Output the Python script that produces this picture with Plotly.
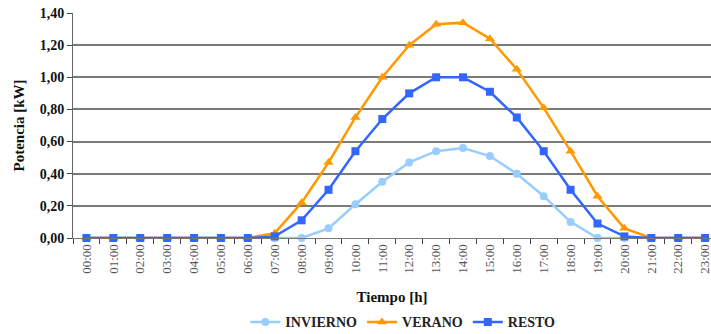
import plotly.graph_objects as go

hours = ["%02d:00" % h for h in range(24)]
invierno = [0, 0, 0, 0, 0, 0, 0, 0, 0.00, 0.06, 0.21, 0.35, 0.47, 0.54, 0.56, 0.51, 0.40, 0.26, 0.10, 0.00, 0, 0, 0, 0]
verano = [0, 0, 0, 0, 0, 0, 0, 0.03, 0.22, 0.47, 0.75, 1.00, 1.20, 1.33, 1.34, 1.24, 1.05, 0.81, 0.54, 0.26, 0.06, 0, 0, 0]
resto = [0, 0, 0, 0, 0, 0, 0, 0.01, 0.11, 0.30, 0.54, 0.74, 0.90, 1.00, 1.00, 0.91, 0.75, 0.54, 0.30, 0.09, 0.01, 0, 0, 0]

y_ticks = [0, 0.2, 0.4, 0.6, 0.8, 1.0, 1.2, 1.4]

serif = "Liberation Serif, Times New Roman, serif"

fig = go.Figure()
fig.add_trace(go.Scatter(x=hours, y=invierno, name="INVIERNO", mode="lines+markers",
                         line=dict(color="#99CCFF", width=2.5),
                         marker=dict(symbol="circle", size=8, color="#99CCFF"), cliponaxis=False))
fig.add_trace(go.Scatter(x=hours, y=verano, name="VERANO", mode="lines+markers",
                         line=dict(color="#FF9900", width=2.5),
                         marker=dict(symbol="triangle-up", size=9, color="#FF9900"), cliponaxis=False))
fig.add_trace(go.Scatter(x=hours, y=resto, name="RESTO", mode="lines+markers",
                         line=dict(color="#3366FF", width=2.5),
                         marker=dict(symbol="square", size=8, color="#3366FF"), cliponaxis=False))

fig.update_layout(
    width=711, height=334,
    margin=dict(l=73, r=0, t=13, b=96, autoexpand=False),
    paper_bgcolor="white", plot_bgcolor="white",
    separators=",.",
    showlegend=True,
    legend=dict(orientation="h", x=0.517, xanchor="center", y=-0.375, yanchor="middle",
                font=dict(family=serif, size=14, color="#222", weight="bold"), itemwidth=30,
                tracegroupgap=0, bgcolor="rgba(0,0,0,0)"),
    font=dict(family=serif),
)
fig.update_xaxes(type="category", range=[-0.5, 23.22], tickson="boundaries",
                 ticks="outside", ticklen=5, tickcolor="#444", tickangle=-90,
                 tickfont=dict(family=serif, size=13, color="#555"),
                 showgrid=False, showline=True, linecolor="#777", linewidth=1,
                 title=dict(text="Tiempo [h]", font=dict(family=serif, size=15, color="#111", weight="bold"), standoff=18))
fig.update_yaxes(range=[0, 1.4], tickvals=y_ticks, tickformat=".2f",
                 ticks="outside", ticklen=5, tickcolor="#444",
                 tickfont=dict(family=serif, size=14, color="#111", weight="bold"),
                 showgrid=True, gridcolor="#7a7a7a", gridwidth=2,
                 showline=True, linecolor="#666", linewidth=1, zeroline=False,
                 title=dict(text="Potencia [kW]", font=dict(family=serif, size=15, color="#111", weight="bold"), standoff=11))

fig.write_html("out.html")
